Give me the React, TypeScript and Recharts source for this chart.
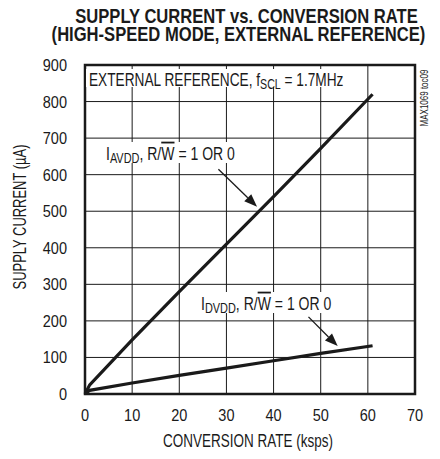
import React from 'react';
import { LineChart, Line, XAxis, YAxis, CartesianGrid, ReferenceArea, ReferenceLine } from 'recharts';

const rateKsps = [0, 1, 10, 20, 30, 40, 50, 61];
const avddCurrent = [0, 25, 148, 280, 410, 540, 672, 820];
const dvddCurrent = [0, 10, 30, 51, 71, 91, 111, 132];
const xTicks = [0, 10, 20, 30, 40, 50, 60, 70];
const yTicks = [0, 100, 200, 300, 400, 500, 600, 700, 800, 900];

const data = rateKsps.map((r, i) => ({ rate: r, avdd: avddCurrent[i], dvdd: dvddCurrent[i] }));

const FONT = "'Liberation Sans', Arial, sans-serif";
const INK = '#1a1a1a';

type CTProps = {
  x: number;
  y: number;
  sx?: number;
  anchor?: 'start' | 'middle' | 'end';
  size: number;
  bold?: boolean;
  rotate?: number;
  children?: React.ReactNode;
};

const CT = ({ x, y, sx = 1, anchor = 'start', size, bold, rotate, children }: CTProps) => (
  <text
    x={0}
    y={0}
    transform={`translate(${x},${y})${rotate ? ` rotate(${rotate})` : ''} scale(${sx},1)`}
    textAnchor={anchor}
    fontSize={size}
    fontWeight={bold ? 'bold' : 'normal'}
    fontFamily={FONT}
    fill={INK}
  >
    {children}
  </text>
);

const XTick = (p: any) => (
  <CT x={p.x} y={p.y + 27} sx={0.88} anchor="middle" size={16.5}>
    {p.payload.value}
  </CT>
);

const YTick = (p: any) => (
  <CT x={p.x - 18} y={p.y + 6} sx={0.88} anchor="end" size={16.5}>
    {p.payload.value}
  </CT>
);

const Arrow = (p: any) => {
  const { x1, y1, x2, y2 } = p;
  const dx = x2 - x1;
  const dy = y2 - y1;
  const len = Math.sqrt(dx * dx + dy * dy) || 1;
  const ux = dx / len;
  const uy = dy / len;
  const hl = 13;
  const hw = 5;
  const bx = x2 - ux * hl;
  const by = y2 - uy * hl;
  const pts = `${x2},${y2} ${bx - uy * hw},${by + ux * hw} ${bx + uy * hw},${by - ux * hw}`;
  return (
    <g>
      <line x1={x1} y1={y1} x2={bx} y2={by} stroke={INK} strokeWidth={1.3} />
      <polygon points={pts} fill={INK} />
    </g>
  );
};

const TSX = 0.83;

export default function App() {
  return (
    <div style={{ position: 'absolute', left: 0, top: 0, width: 440, height: 459, background: '#fff' }}>
      <LineChart width={440} height={459} data={data} margin={{ top: 65, right: 25, bottom: 25, left: 25 }}>
        <CartesianGrid stroke={INK} strokeWidth={1} horizontalValues={yTicks} verticalValues={xTicks} />
        <XAxis
          dataKey="rate"
          type="number"
          domain={[0, 70]}
          ticks={xTicks}
          axisLine={false}
          tickLine={false}
          tickSize={0}
          tickMargin={0}
          height={40}
          tick={<XTick />}
          interval={0}
        />
        <YAxis
          type="number"
          domain={[0, 900]}
          ticks={yTicks}
          axisLine={false}
          tickLine={false}
          tickSize={0}
          tickMargin={0}
          width={60}
          tick={<YTick />}
          interval={0}
        />
        <ReferenceArea x1={0} x2={70} y1={0} y2={900} fill="none" stroke={INK} strokeWidth={2.5} ifOverflow="visible" />
        <Line dataKey="avdd" stroke={INK} strokeWidth={3.2} dot={false} isAnimationActive={false} type="linear" />
        <Line dataKey="dvdd" stroke={INK} strokeWidth={3.2} dot={false} isAnimationActive={false} type="linear" />
        <ReferenceLine segment={[{ x: 28.3, y: 615 }, { x: 36.5, y: 512 }]} shape={Arrow} ifOverflow="visible" />
        <ReferenceLine segment={[{ x: 47.4, y: 211 }, { x: 53.6, y: 131 }]} shape={Arrow} ifOverflow="visible" />
      </LineChart>
      <svg width={440} height={459} style={{ position: 'absolute', left: 0, top: 0, pointerEvents: 'none' }}>
        <text
          transform={`scale(${TSX},1)`}
          textAnchor="middle"
          fontSize={20}
          fontWeight="bold"
          fontFamily={FONT}
          fill={INK}
        >
          <tspan x={246.5 / TSX} y={22.7}>SUPPLY CURRENT vs. CONVERSION RATE</tspan>
          <tspan x={238.5 / TSX} y={41.5}>(HIGH-SPEED MODE, EXTERNAL REFERENCE)</tspan>
        </text>

        <rect x={86} y={69} width={262} height={18} fill="#fff" />
        <CT x={89} y={85.5} sx={0.76} size={18}>
          EXTERNAL REFERENCE, f<tspan fontSize={14} dy={3}>SCL</tspan><tspan dy={-3}> = 1.7MHz</tspan>
        </CT>

        <rect x={104} y={142} width={138} height={21} fill="#fff" />
        <CT x={106} y={159.5} sx={0.78} size={18}>
          I<tspan fontSize={14} dy={3}>AVDD</tspan><tspan dy={-3}>, R/</tspan><tspan style={{ textDecoration: 'overline' }}>W</tspan> = 1 OR 0
        </CT>

        <rect x={199} y={292} width={138} height={21} fill="#fff" />
        <CT x={201} y={309.5} sx={0.78} size={18}>
          I<tspan fontSize={14} dy={3}>DVDD</tspan><tspan dy={-3}>, R/</tspan><tspan style={{ textDecoration: 'overline' }}>W</tspan> = 1 OR 0
        </CT>

        <CT x={248} y={447} sx={0.75} anchor="middle" size={18}>
          CONVERSION RATE (ksps)
        </CT>
        <CT x={26} y={217} sx={0.72} anchor="middle" size={18} rotate={-90}>
          SUPPLY CURRENT (µA)
        </CT>
        <CT x={428} y={98} sx={0.8} anchor="middle" size={10} rotate={-90}>
          MAX1069 toc09
        </CT>
      </svg>
    </div>
  );
}
